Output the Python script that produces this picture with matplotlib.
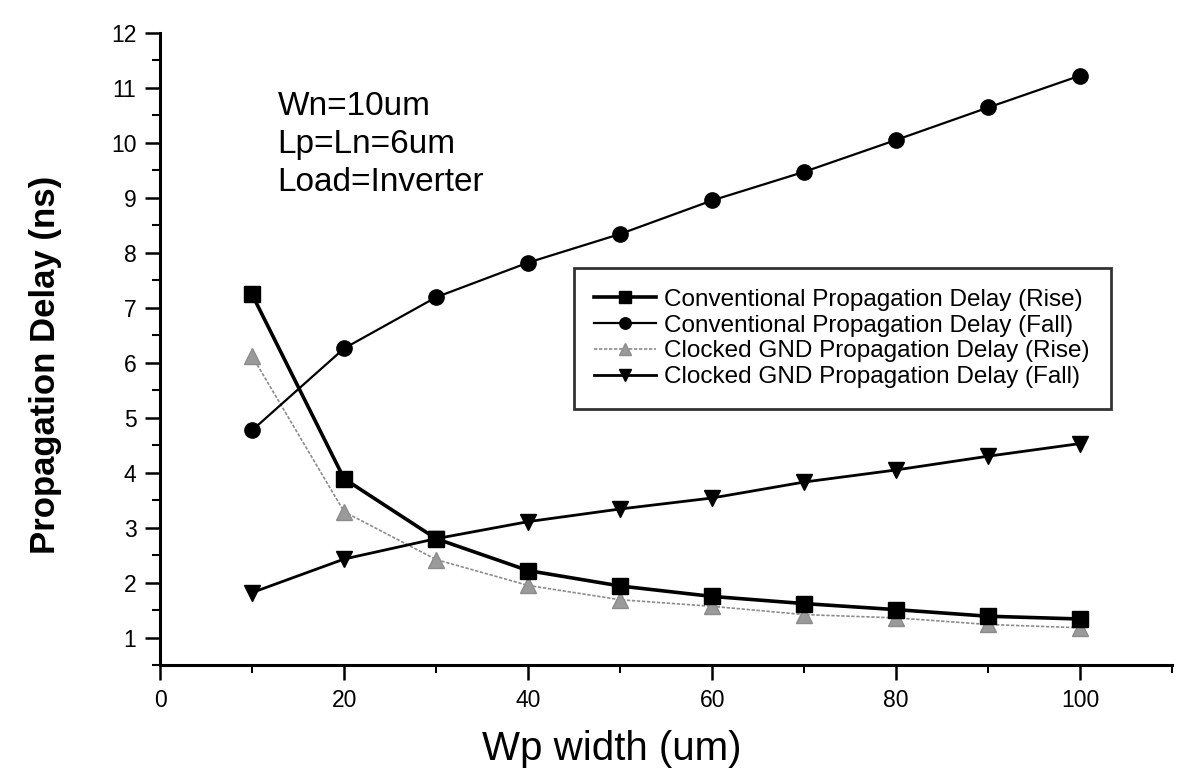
import matplotlib
matplotlib.use("Agg")
import matplotlib.pyplot as plt
from matplotlib.ticker import MultipleLocator

plt.rcParams["font.family"] = ["Liberation Sans", "DejaVu Sans"]

# Wp width (um)
wp = [10, 20, 30, 40, 50, 60, 70, 80, 90, 100]

# propagation delay (ns)
conv_rise = [7.24, 3.89, 2.80, 2.22, 1.94, 1.75, 1.62, 1.51, 1.39, 1.34]
conv_fall = [4.77, 6.26, 7.19, 7.82, 8.34, 8.95, 9.47, 10.05, 10.64, 11.22]
clk_rise = [6.12, 3.29, 2.42, 1.95, 1.69, 1.57, 1.42, 1.36, 1.24, 1.18]
clk_fall = [1.82, 2.43, 2.80, 3.11, 3.34, 3.54, 3.83, 4.05, 4.30, 4.53]

labels = [
    "Conventional Propagation Delay (Rise)",
    "Conventional Propagation Delay (Fall)",
    "Clocked GND Propagation Delay (Rise)",
    "Clocked GND Propagation Delay (Fall)",
]

fig = plt.figure(figsize=(11.77, 7.78), dpi=100)
ax = fig.add_axes([0.136, 0.145, 0.86, 0.813])

ax.plot(wp, clk_rise, color="#8c8c8c", lw=1.2, ls=(0, (2, 1)), marker="^", ms=11,
        mfc="#9a9a9a", mec="#8c8c8c", label=labels[2], zorder=2)
ax.plot(wp, clk_fall, color="k", lw=2.0, marker="v", ms=12, mfc="k", mec="k",
        label=labels[3], zorder=3)
ax.plot(wp, conv_fall, color="k", lw=1.6, marker="o", ms=11, mfc="k", mec="k",
        label=labels[1], zorder=3)
ax.plot(wp, conv_rise, color="k", lw=2.6, marker="s", ms=11, mfc="k", mec="k",
        label=labels[0], zorder=4)

ax.set_xlim(0, 110)
ax.set_ylim(0.5, 12)
ax.xaxis.set_minor_locator(MultipleLocator(10))
ax.set_xticks([0, 20, 40, 60, 80, 100])
ax.yaxis.set_minor_locator(MultipleLocator(0.5))
ax.set_yticks(range(1, 13))

for s in ("top", "right"):
    ax.spines[s].set_visible(False)
for s in ("left", "bottom"):
    ax.spines[s].set_linewidth(2.2)

ax.tick_params(which="major", direction="out", length=11, width=1.8,
               labelsize=16.5, pad=6)
ax.tick_params(which="minor", direction="out", length=6, width=1.5)

ax.set_xlabel("Wp width (um)", fontsize=29)
ax.xaxis.set_label_coords(0.446, -0.103)
ax.set_ylabel("Propagation Delay (ns)", fontsize=25, fontweight="bold")
ax.yaxis.set_label_coords(-0.097, 0.475)

ax.text(0.116, 0.908, "Wn=10um\nLp=Ln=6um\nLoad=Inverter", transform=ax.transAxes,
        fontsize=24, va="top", ha="left", linespacing=1.3)

h, l = ax.get_legend_handles_labels()
order = [3, 2, 0, 1]
leg = ax.legend([h[i] for i in order], [l[i] for i in order], loc="upper right",
                bbox_to_anchor=(0.939, 0.628), fontsize=17.5, frameon=True,
                fancybox=False, edgecolor="k", handlelength=2.55,
                handletextpad=0.33, borderpad=0.85, labelspacing=0.16,
                markerscale=0.75, borderaxespad=0)
leg.get_frame().set_linewidth(2.0)

fig.savefig("out.png", dpi=100)
